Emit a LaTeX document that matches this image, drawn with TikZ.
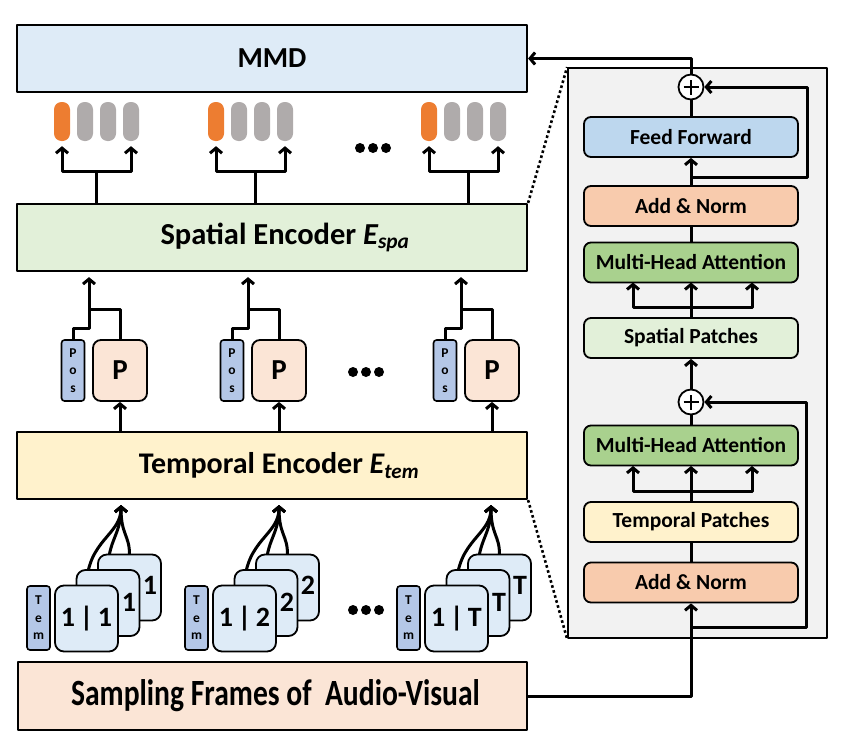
\documentclass[tikz,border=0pt]{standalone}
\usepackage{fontspec}
\setmainfont{Carlito}
\newfontfamily\narrowfont[FakeStretch=0.8]{Carlito}
\usetikzlibrary{arrows.meta,calc}

\definecolor{mmdblue}{HTML}{DEEBF7}
\definecolor{spagreen}{HTML}{E2F0D9}
\definecolor{temyellow}{HTML}{FFF2CC}
\definecolor{sampeach}{HTML}{FBE5D6}
\definecolor{tokorange}{HTML}{ED7D31}
\definecolor{tokgray}{HTML}{AFABAB}
\definecolor{tagblue}{HTML}{B4C7E7}
\definecolor{ffblue}{HTML}{BDD7EE}
\definecolor{anorange}{HTML}{F8CBAD}
\definecolor{mhagreen}{HTML}{A9D18E}
\definecolor{panelgray}{HTML}{F2F2F2}

\tikzset{
  encbox/.style={draw,line width=2.2pt,inner sep=0pt,minimum width=510pt,minimum height=67pt,
    font=\bfseries\fontsize{29}{32}\selectfont},
  layer/.style={draw,line width=1.8pt,rounded corners=7pt,inner sep=0pt,minimum width=214pt,
    minimum height=40pt,font=\bfseries\fontsize{21.5}{24}\selectfont},
  pill/.style={rounded corners=7.5pt,inner sep=0pt,minimum width=16pt,minimum height=39pt},
  tag/.style={draw,line width=1.6pt,fill=tagblue,rounded corners=3pt,inner sep=0pt,
    minimum width=23pt,align=center,font=\bfseries\fontsize{13.5}{17.5}\selectfont},
  patch/.style={draw,line width=1.8pt,fill=sampeach,rounded corners=8pt,inner sep=0pt,
    minimum width=54pt,minimum height=61pt,font=\bfseries\fontsize{29}{30}\selectfont},
  frm/.style={draw,line width=1.8pt,fill=mmdblue,rounded corners=9pt,inner sep=0pt,
    minimum width=63pt,minimum height=66pt,font=\bfseries\fontsize{28}{30}\selectfont},
  flbl/.style={inner sep=0pt,font=\bfseries\fontsize{28}{30}\selectfont},
  addop/.style={draw,circle,line width=1.8pt,fill=white,minimum size=25pt,inner sep=0pt,
    path picture={\draw[line width=1.8pt] (path picture bounding box.center) ++(-7.5pt,0) -- ++(15pt,0)
      (path picture bounding box.center) ++(0,-7.5pt) -- ++(0,15pt);}},
  wire/.style={line width=3pt},
  wirearr/.style={wire,-{Straight Barb[length=5pt,width=12pt,line width=3pt]}},
}

\begin{document}
\begin{tikzpicture}[x=1pt,y=-1pt,line join=round]
  \useasboundingbox (0,0) rectangle (850,744);

  % --- left column: encoders ---
  \node[encbox,fill=mmdblue]  (mmd)  at (272,58.5)  {MMD};
  \node[encbox,fill=spagreen,font=\bfseries\fontsize{30.5}{32}\selectfont] (spa) at (272,237.5)
    {\hspace*{26pt}Spatial Encoder \textit{E\textsubscript{spa}}};
  \node[encbox,fill=temyellow,font=\bfseries\fontsize{30}{32}\selectfont] (tem) at (272,465.5)
    {\hspace*{14pt}Temporal Encoder \textit{E\textsubscript{tem}}};
  \node[encbox,fill=sampeach,minimum width=509pt,minimum height=68pt,
        font=\narrowfont\bfseries\fontsize{37}{40}\selectfont] (samp) at (272.5,696)
    {\hspace*{6pt}Sampling Frames of~~Audio-Visual};

  % --- output tokens above the spatial encoder ---
  \foreach \g/\gx/\sx in {1/54/96, 2/208/255, 3/421/468} {
    \foreach \k in {1,...,4} {
      \ifnum\k=1 \def\tc{tokorange}\else \def\tc{tokgray}\fi
      \node[pill,fill=\tc] (tok\g-\k) at ({\gx+8+23*(\k-1)},121.5) {};
    }
    \coordinate (fk\g) at (\sx,171);
    \draw[wire] (spa.north -| fk\g) -- (fk\g);
    \draw[wirearr,shorten >=5pt] (fk\g) -| (tok\g-1.south);
    \draw[wirearr,shorten >=5pt] (fk\g) -| (tok\g-4.south);
  }

  % --- patches with position tags ---
  \foreach \g/\o in {1/0, 2/159, 3/372} {
    \node[tag,minimum height=61pt] (pos\g) at (73+\o,370.5) {P\\o\\s};
    \node[patch] (p\g) at (120+\o,370.5) {P};
    \coordinate (st\g) at (89+\o,309);
    \draw[wirearr,shorten >=5pt] (p\g.north) |- (st\g) -- (spa.south -| st\g);
    \draw[wire] (pos\g.north) |- ($(st\g)+(0,19)$) -- (st\g);
    \draw[wirearr] (tem.north -| p\g.south) -- (p\g.south);
  }

  % --- sampled frames with temporal tags ---
  \foreach \g/\o/\lb in {1/0/1, 2/158/2, 3/370/T} {
    \coordinate (tip\g) at (121+\o,499);
    \draw[wirearr,shorten >=6pt] (86.5+\o,585) .. controls (88+\o,540) and (121+\o,535) .. (tip\g);
    \draw[wirearr,shorten >=6pt] (108+\o,570) .. controls (108+\o,540) and (121+\o,535) .. (tip\g);
    \draw[wirearr,shorten >=6pt] (129.5+\o,554.5) .. controls (129.5+\o,535) and (121+\o,535) .. (tip\g);
    \node[frm] (fb\g) at (129.5+\o,587.5) {};
    \node[frm] (fm\g) at (108+\o,603) {};
    \node[frm] (ff\g) at (86.5+\o,618.5) {1\,|\,\lb};
    \node[flbl] at (150+\o,585) {\lb};
    \node[flbl] at (129+\o,602) {\lb};
    \node[tag,minimum height=64pt] (tm\g) at (38.5+\o,618) {T\\e\\m};
  }

  % --- ellipsis dots ---
  \foreach \y/\x in {148/373, 372/366, 610/366}
    \foreach \d in {-13,0,13}
      \fill (\x+\d,\y) circle (5pt);

  % --- zoomed encoder block ---
  \node[draw,line width=1.8pt,fill=panelgray,minimum width=259pt,minimum height=570pt,inner sep=0pt]
    (panel) at (697.5,353) {};
  \draw[line width=2.6pt,dash pattern=on 2.6pt off 2.6pt] (spa.north east) -- (panel.north west);
  \draw[line width=2.6pt,dash pattern=on 2.6pt off 2.6pt] (tem.south east) -- (panel.south west);

  \node[addop] (add1) at (691,87) {};
  \node[layer,fill=ffblue]    (ffw)  at (691,137)   {Feed Forward};
  \node[layer,fill=anorange]  (an1)  at (691,206)   {Add \& Norm};
  \node[layer,fill=mhagreen]  (mha1) at (691,262.5) {Multi-Head Attention};
  \node[layer,fill=spagreen]  (spp)  at (691,338)   {Spatial Patches};
  \node[addop] (add2) at (691,402) {};
  \node[layer,fill=mhagreen]  (mha2) at (691,445.5) {Multi-Head Attention};
  \node[layer,fill=temyellow] (tpp)  at (691,522)   {Temporal Patches};
  \node[layer,fill=anorange]  (an2)  at (691,582.5) {Add \& Norm};

  % --- connections inside the block ---
  \draw[wirearr] (samp.east) -| (an2.south);
  \coordinate (sk2) at (691,627);
  \coordinate (sk2r) at (806,402);
  \draw[wirearr] (sk2) -| (sk2r) -- (add2.east);
  \draw[wire] (an2.north) -- (tpp.south);
  \coordinate (fq2) at (691,491);
  \draw[wire] (tpp.north) -- (fq2);
  \foreach \x in {633,691,752}
    \draw[wirearr] (fq2) -| (\x,466);
  \draw[wire] (mha2.north) -- (add2.south);
  \draw[wirearr] (add2.north) -- (spp.south);
  \coordinate (fq1) at (691,307);
  \draw[wire] (spp.north) -- (fq1);
  \foreach \x in {633,691,752}
    \draw[wirearr] (fq1) -| (\x,282.5);
  \draw[wire] (mha1.north) -- (an1.south);
  \draw[wirearr] (an1.north) -- (ffw.south);
  \coordinate (sk1) at (691,177);
  \coordinate (sk1r) at (807,87);
  \draw[wirearr] (sk1) -| (sk1r) -- (add1.east);
  \draw[wire] (ffw.north) -- (add1.south);
  \draw[wirearr] (add1.north) |- (mmd.east);
\end{tikzpicture}
\end{document}
